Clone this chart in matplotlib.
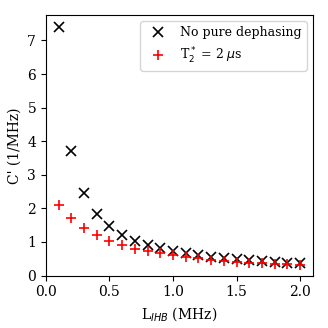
import matplotlib
matplotlib.use("Agg")
import matplotlib.pyplot as plt

L = [0.1, 0.2, 0.3, 0.4, 0.5, 0.6, 0.7, 0.8, 0.9, 1.0,
     1.1, 1.2, 1.3, 1.4, 1.5, 1.6, 1.7, 1.8, 1.9, 2.0]
c_nodeph = [7.4, 3.7, 2.45, 1.83, 1.46, 1.21, 1.04, 0.91, 0.81, 0.73,
            0.66, 0.61, 0.56, 0.52, 0.48, 0.45, 0.42, 0.40, 0.38, 0.36]
c_t2 = [2.1, 1.72, 1.42, 1.2, 1.03, 0.9, 0.8, 0.72, 0.66, 0.6,
        0.55, 0.51, 0.47, 0.44, 0.41, 0.38, 0.36, 0.34, 0.33, 0.31]

plt.rcParams['font.family'] = 'DejaVu Serif'
plt.rcParams['font.size'] = 10

fig = plt.figure(figsize=(3.28, 3.28), dpi=100)
ax = fig.add_axes([0.140, 0.160, 0.814, 0.794])
ax.plot(L, c_nodeph, 'x', color='black', markersize=7, mew=1.2, label='No pure dephasing')
ax.plot(L, c_t2, '+', color='red', markersize=7, mew=1.2, label=r'T$_2^*$ = 2 $\mu$s')
ax.set_xlim(0, 2.1)
ax.set_ylim(0, 7.755)
ax.set_xticks([0.0, 0.5, 1.0, 1.5, 2.0])
ax.set_yticks(range(0, 8))
ax.set_xlabel(r'L$_{IHB}$ (MHz)')
ax.set_ylabel("C' (1/MHz)")
ax.legend(loc='upper right', fontsize=9)
fig.savefig('out.png', dpi=100)
